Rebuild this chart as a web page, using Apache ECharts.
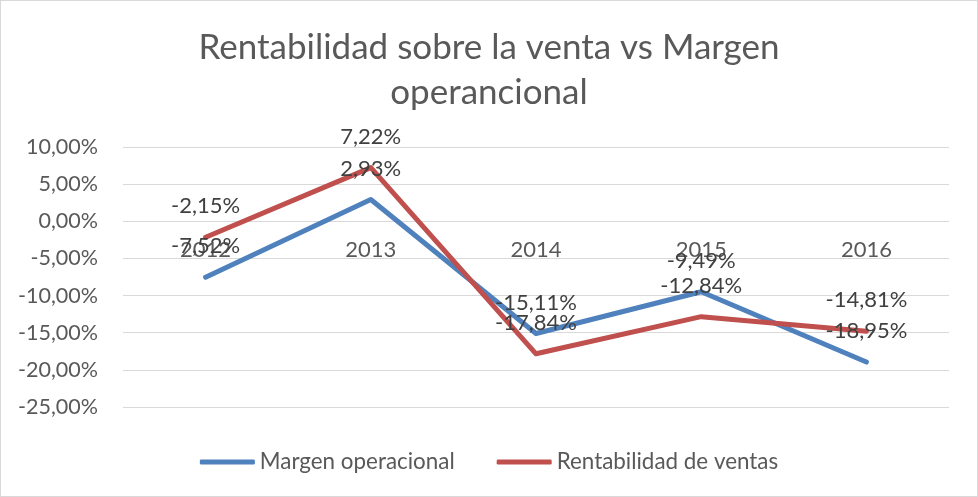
<!DOCTYPE html>
<html>
<head>
<meta charset="utf-8">
<script src="https://cdn.jsdelivr.net/npm/echarts@6/dist/echarts.min.js"></script>
<style>
html,body{margin:0;padding:0;background:#fff;}
#c{width:976px;height:495px;border:1px solid #d9d9d9;}
</style>
</head>
<body>
<div id="c"></div>
<script>
const categories = ['2012', '2013', '2014', '2015', '2016'];
const margenOperacional = [-7.52, 2.93, -15.11, -9.49, -18.95];
const rentabilidadVentas = [-2.15, 7.22, -17.84, -12.84, -14.81];
const seriesNames = ['Margen operacional', 'Rentabilidad de ventas'];
const titleText = 'Rentabilidad sobre la venta vs Margen\noperancional';

const FONT = 'Lato';
const fmt = v => v.toFixed(2).replace('.', ',') + '%';

const chart = echarts.init(document.getElementById('c'));
const labelCfg = {
  show: true,
  position: 'top',
  distance: 19,
  color: '#404040',
  fontFamily: FONT,
  fontSize: 22,
  formatter: p => fmt(p.value)
};
chart.setOption({
  animation: false,
  title: {
    text: titleText,
    left: 'center',
    top: 19,
    textStyle: { color: '#595959', fontFamily: FONT, fontSize: 35, fontWeight: 'normal', lineHeight: 45 }
  },
  legend: {
    bottom: 18,
    left: 'center',
    itemWidth: 55,
    itemHeight: 5,
    itemGap: 42,
    icon: 'roundRect',
    textStyle: { color: '#595959', fontFamily: FONT, fontSize: 22.4 },
    data: seriesNames
  },
  grid: { left: 122, right: 28, top: 146, bottom: 89 },
  xAxis: {
    type: 'category',
    data: categories,
    offset: -187,
    axisLine: { show: false, onZero: false },
    axisTick: { show: false },
    axisLabel: { color: '#595959', fontFamily: FONT, fontSize: 22, margin: 19 }
  },
  yAxis: {
    type: 'value',
    min: -25,
    max: 10,
    interval: 5,
    axisLine: { show: false },
    axisTick: { show: false },
    splitLine: { lineStyle: { color: '#d9d9d9', width: 1 } },
    axisLabel: { color: '#595959', fontFamily: FONT, fontSize: 21.5, margin: 25, formatter: v => fmt(v) }
  },
  series: [
    {
      name: seriesNames[0],
      type: 'line',
      data: margenOperacional,
      symbol: 'circle',
      symbolSize: 2,
      showSymbol: true,
      lineStyle: { color: '#4F81BD', width: 5, cap: 'round', join: 'round' },
      itemStyle: { color: '#4F81BD' },
      label: labelCfg
    },
    {
      name: seriesNames[1],
      type: 'line',
      data: rentabilidadVentas,
      symbol: 'circle',
      symbolSize: 2,
      showSymbol: true,
      lineStyle: { color: '#C0504D', width: 5, cap: 'round', join: 'round' },
      itemStyle: { color: '#C0504D' },
      label: labelCfg
    }
  ]
});
</script>
</body>
</html>
